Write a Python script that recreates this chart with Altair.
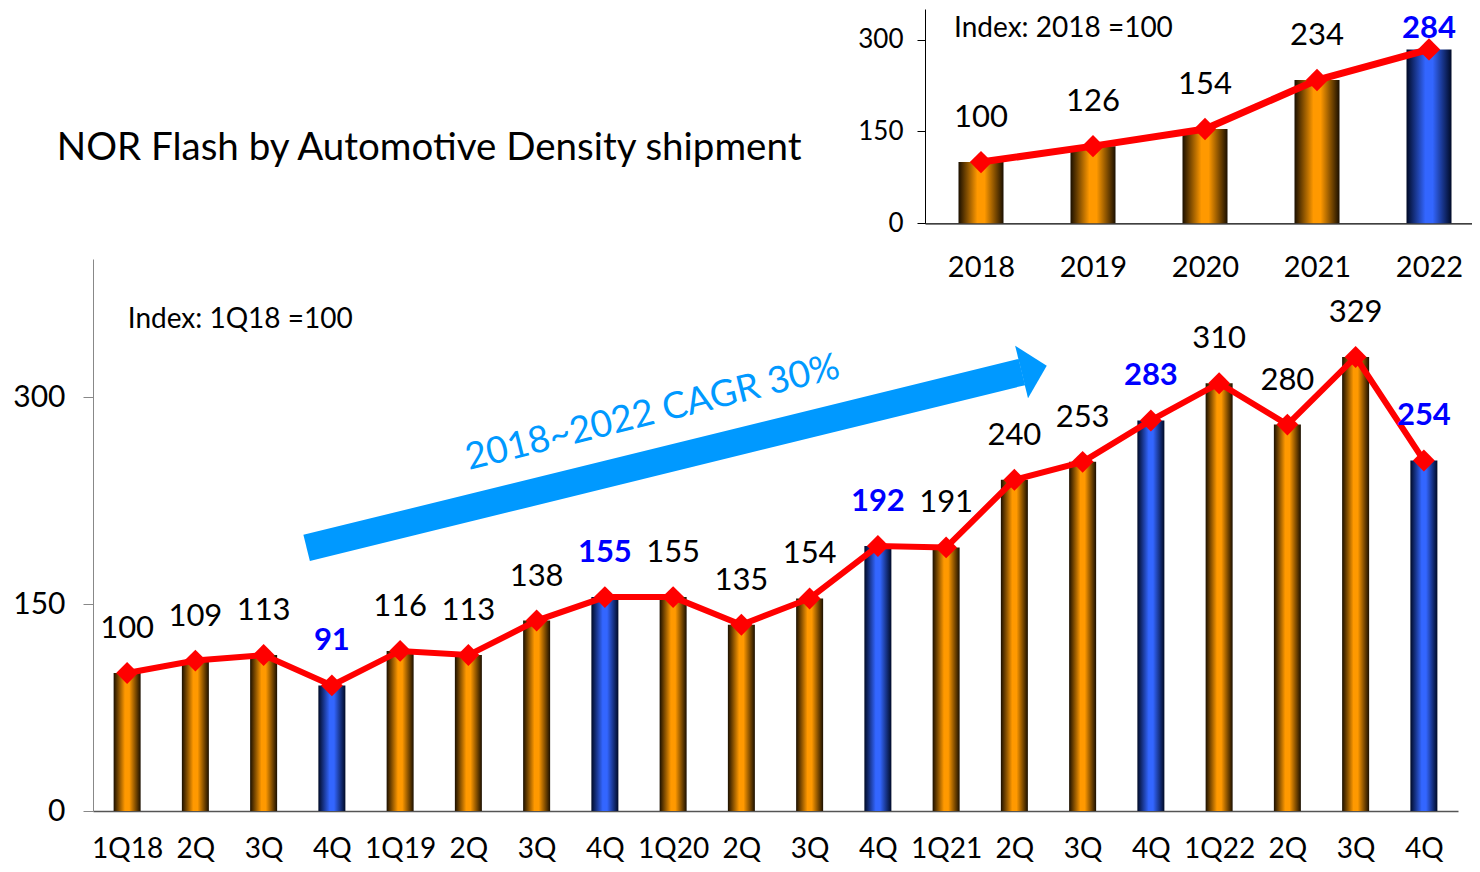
import json
import altair as alt
import pandas as pd

# ---------------- data ----------------
quarters = ["1Q18", "2Q", "3Q", "4Q", "1Q19", "2Q", "3Q", "4Q", "1Q20", "2Q",
            "3Q", "4Q", "1Q21", "2Q", "3Q", "4Q", "1Q22", "2Q", "3Q", "4Q"]
q_values = [100, 109, 113, 91, 116, 113, 138, 155, 155, 135,
            154, 192, 191, 240, 253, 283, 310, 280, 329, 254]
q_highlight = [False, False, False, True, False, False, False, True, False, False,
               False, True, False, False, False, True, False, False, False, True]

years = ["2018", "2019", "2020", "2021", "2022"]
y_values = [100, 126, 154, 234, 284]
y_highlight = [False, False, False, False, True]

# annotation anchors (in data units of the main chart: x = quarter index, y = index value)
arrow_x = [2.63, 13.11]
arrow_y = [190.6, 318.1]
arrow_head_x = [13.29]
arrow_head_y = [320.4]
cagr_x = [7.70]
cagr_y = [288.4]
cagr_text = ["2018~2022 CAGR 30%"]
idx_main_x = [0.01]
idx_main_y = [350]
idx_main_text = ["Index: 1Q18 =100"]
title_x = [-1.03]
title_y = [471.5]
title_text = ["NOR Flash by Automotive Density shipment"]
idx_inset_x = [-0.24]
idx_inset_y = [305]
idx_inset_text = ["Index: 2018 =100"]

FONT = "Lato"
ORANGE = "#FF9900"
BLUE = "#3366FF"
ARROW = "#0099FF"

# ---------------- tables ----------------
main_df = pd.DataFrame({
    "i": list(range(len(quarters))),
    "q": quarters,
    "v": q_values,
    "hl": q_highlight,
})
inset_df = pd.DataFrame({
    "j": list(range(len(years))),
    "yr": years,
    "w": y_values,
    "hl": y_highlight,
})
arrow_df = pd.DataFrame({"ax": arrow_x, "ay": arrow_y})
head_df = pd.DataFrame({"ax": arrow_head_x, "ay": arrow_head_y})
cagr_df = pd.DataFrame({"ax": cagr_x, "ay": cagr_y, "t": cagr_text})
idx_main_df = pd.DataFrame({"ax": idx_main_x, "ay": idx_main_y, "t": idx_main_text})
title_df = pd.DataFrame({"ax": title_x, "ay": title_y, "t": title_text})
idx_inset_df = pd.DataFrame({"jx": idx_inset_x, "jy": idx_inset_y, "t": idx_inset_text})


def grad(dark, mid):
    return alt.LinearGradient(
        gradient="linear", x1=0, x2=1, y1=0, y2=0,
        stops=[alt.GradientStop(color=dark, offset=0),
               alt.GradientStop(color=mid, offset=0.42),
               alt.GradientStop(color=mid, offset=0.58),
               alt.GradientStop(color=dark, offset=1)])


W, H = 1365, 552
XDOM = [-0.5, len(quarters) - 0.5]

# ---------------- main chart ----------------
xq = alt.X("i:Q",
           scale=alt.Scale(domain=XDOM, nice=False, zero=False, padding=0),
           axis=alt.Axis(orient="bottom", values=list(range(len(quarters))),
                         labelExpr=json.dumps(quarters) + "[datum.value]",
                         ticks=False, title=None, labelFontSize=28, labelFont=FONT,
                         labelColor="black", labelPadding=24, domainColor="#555555",
                         domainWidth=1.5, labelOverlap=False, labelFlush=False, grid=False))
yq = alt.Y("v:Q",
           scale=alt.Scale(domain=[0, 400], nice=False, padding=0),
           axis=alt.Axis(orient="left", values=[0, 150, 300], title=None, tickSize=10,
                         tickColor="#888888", domainColor="#888888", labelFontSize=30,
                         labelFont=FONT, labelColor="black", labelPadding=18,
                         grid=False))

base = alt.Chart(main_df)
bars_o = base.mark_bar(size=27, color=grad("#1a0f00", ORANGE)).encode(x=xq, y=yq).transform_filter("!datum.hl")
bars_b = base.mark_bar(size=27, color=grad("#000a26", BLUE)).encode(x=xq, y=yq).transform_filter("datum.hl")
line = base.mark_line(color="#FF0000", strokeWidth=6).encode(x=xq, y=yq)
pts = base.mark_point(shape="diamond", size=480, filled=True, color="#FF0000", opacity=1).encode(x=xq, y=yq)
lab_k = base.mark_text(dy=-44, fontSize=31, font=FONT, color="black").encode(
    x=xq, y=yq, text="v:Q").transform_filter("!datum.hl")
lab_b = base.mark_text(dy=-44, fontSize=31, font=FONT, color="#0000FF", fontWeight="bold").encode(
    x=xq, y=yq, text="v:Q").transform_filter("datum.hl")

ax_x = alt.X("ax:Q", scale=alt.Scale(domain=XDOM, nice=False, zero=False, padding=0))
ax_y = alt.Y("ay:Q", scale=alt.Scale(domain=[0, 400], nice=False, padding=0))
shaft = alt.Chart(arrow_df).mark_line(color=ARROW, strokeWidth=27, strokeCap="butt").encode(x=ax_x, y=ax_y)
head = alt.Chart(head_df).mark_point(
    shape="M -0.48 -1 L 0.48 0 L -0.48 1 Z", size=2916, filled=True, color=ARROW,
    opacity=1, angle=346.2).encode(x=ax_x, y=ax_y)
cagr = alt.Chart(cagr_df).mark_text(
    fontSize=37, font=FONT, color=ARROW, angle=346, align="center", baseline="middle").encode(
    x=ax_x, y=ax_y, text="t:N")
idx_main = alt.Chart(idx_main_df).mark_text(
    fontSize=28, font=FONT, color="black", align="left", baseline="alphabetic").encode(
    x=ax_x, y=ax_y, text="t:N")
title = alt.Chart(title_df).mark_text(
    fontSize=38.5, font=FONT, color="black", align="left", baseline="alphabetic").encode(
    x=ax_x, y=ax_y, text="t:N")

main = alt.layer(bars_o, bars_b, line, pts, lab_k, lab_b, shaft, head, cagr, idx_main, title)

# ---------------- inset chart ----------------
# inset plot area relative to main plot origin
IX0, IX1 = 832, 1392
IY0, IY1 = -35.7, -250.0
JDOM = [-0.5, len(years) - 0.5]
xj = alt.X("j:Q",
           scale=alt.Scale(domain=JDOM, range=[IX0, IX1], nice=False, zero=False, padding=0),
           axis=alt.Axis(orient="bottom", offset=IY0 - H, values=list(range(len(years))),
                         labelExpr=json.dumps(years) + "[datum.value]", ticks=False, title=None,
                         labelFontSize=29, labelFont=FONT, labelColor="black", labelPadding=30,
                         domainColor="black", domainWidth=1.2, grid=False, labelFlush=False))
yj = alt.Y("w:Q",
           scale=alt.Scale(domain=[0, 350], range=[IY0, IY1], nice=False, padding=0),
           axis=alt.Axis(orient="left", offset=-IX0, values=[0, 150, 300], title=None, tickSize=8,
                         tickColor="black", domainColor="black", labelFontSize=26, labelFont=FONT,
                         labelColor="black", labelPadding=14, grid=False))
xj2 = alt.X("jx:Q", scale=alt.Scale(domain=JDOM, range=[IX0, IX1], nice=False, zero=False, padding=0))
yj2 = alt.Y("jy:Q", scale=alt.Scale(domain=[0, 350], range=[IY0, IY1], nice=False, padding=0))

ib = alt.Chart(inset_df)
ibars_o = ib.mark_bar(size=45, color=grad("#1a0f00", ORANGE)).encode(x=xj, y=yj).transform_filter("!datum.hl")
ibars_b = ib.mark_bar(size=45, color=grad("#000a26", BLUE)).encode(x=xj, y=yj).transform_filter("datum.hl")
iline = ib.mark_line(color="#FF0000", strokeWidth=7).encode(x=xj, y=yj)
ipts = ib.mark_point(shape="diamond", size=500, filled=True, color="#FF0000", opacity=1).encode(x=xj, y=yj)
ilab_k = ib.transform_calculate(ly="min(datum.w + 71.7, 317)").transform_filter("!datum.hl").mark_text(
    fontSize=31, font=FONT, color="black", baseline="middle").encode(
    x=xj, y=alt.Y("ly:Q"), text="w:Q")
ilab_b = ib.transform_calculate(ly="min(datum.w + 71.7, 317)").transform_filter("datum.hl").mark_text(
    fontSize=31, font=FONT, color="#0000FF", fontWeight="bold", baseline="middle").encode(
    x=xj, y=alt.Y("ly:Q"), text="w:Q")
idx_inset = alt.Chart(idx_inset_df).mark_text(
    fontSize=28, font=FONT, color="black", align="left", baseline="alphabetic").encode(
    x=xj2, y=yj2, text="t:N")

inset = alt.layer(ibars_o, ibars_b, iline, ipts, ilab_k, ilab_b, idx_inset)

chart = alt.layer(main, inset).resolve_scale(x="independent", y="independent").properties(
    width=W, height=H,
    autosize=alt.AutoSizeParams(type="none"),
    padding={"left": 85, "top": 251, "right": 14, "bottom": 53},
    view=alt.ViewBackground(stroke="transparent", strokeWidth=0),
).configure_view(stroke="transparent", strokeWidth=0).configure_axis(
    grid=False).configure(background="white")

chart.save("out.html", embed_options={"renderer": "svg", "actions": False})
